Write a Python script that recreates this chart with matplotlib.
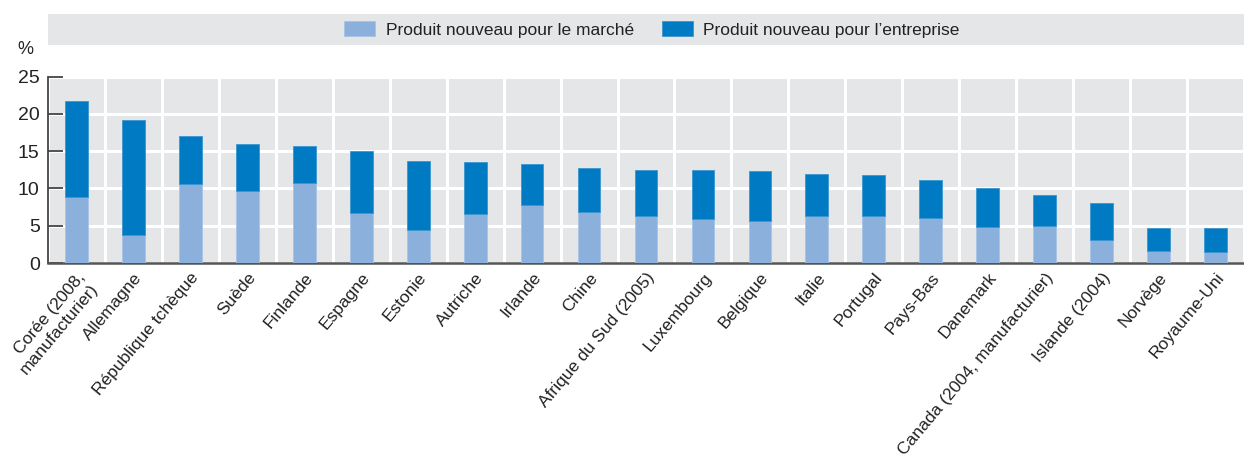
import numpy as np
import matplotlib
matplotlib.use("Agg")
from matplotlib import pyplot as plt
from matplotlib.patches import Rectangle

plt.rcParams['font.family'] = ['Liberation Sans', 'DejaVu Sans']

countries = [
    "Corée (2008,\nmanufacturier)", "Allemagne", "République tchèque", "Suède",
    "Finlande", "Espagne", "Estonie", "Autriche", "Irlande", "Chine",
    "Afrique du Sud (2005)", "Luxembourg", "Belgique", "Italie", "Portugal",
    "Pays-Bas", "Danemark", "Canada (2004, manufacturier)", "Islande (2004)",
    "Norvège", "Royaume-Uni",
]
# share of firms with product new to the market
new_market = [8.9, 3.7, 10.6, 9.6, 10.8, 6.7, 4.4, 6.6, 7.8, 6.8,
              6.3, 5.9, 5.7, 6.3, 6.25, 6.1, 4.8, 5.0, 3.05, 1.6, 1.45]
# total (new to the firm), top of the stacked bar
total = [21.8, 19.2, 17.0, 16.0, 15.7, 15.05, 13.7, 13.6, 13.3, 12.7,
         12.5, 12.45, 12.35, 11.9, 11.8, 11.1, 10.1, 9.1, 8.1, 4.7, 4.7]

light = '#8cb0dc'
dark = '#007bc3'
bg = '#e5e6e8'
txt = '#222222'

x = np.arange(len(countries))
new_market = np.array(new_market)
new_firm = np.array(total) - new_market

fig = plt.figure(figsize=(12.44, 4.57), dpi=100)
ax = fig.add_axes([48 / 1244, 1 - 263 / 457, 1 - 48 / 1244, (263 - 76.7) / 457])
ax.set_facecolor(bg)

ax.bar(x, new_market, width=0.4, color=light, edgecolor='#a7c4e6', linewidth=0.6,
       label='Produit nouveau pour le marché', zorder=3)
ax.bar(x, new_firm, bottom=new_market, width=0.4, color=dark, edgecolor='#3a95d0',
       linewidth=0.6, label='Produit nouveau pour l\u2019entreprise', zorder=3)

ax.set_ylim(0, 25)
ax.set_xlim(-0.5, 20.26)
ax.set_yticks([0, 5, 10, 15, 20, 25])
ax.set_xticks(x)
ax.set_xticks(np.arange(-0.5, 20.6, 1), minor=True)
ax.grid(axis='y', which='major', color='white', linewidth=2.2, zorder=1)
ax.grid(axis='x', which='minor', color='white', linewidth=2.2, zorder=1)
ax.grid(axis='x', which='major', visible=False)

for s in ['top', 'right']:
    ax.spines[s].set_visible(False)
ax.spines['left'].set_color('#444444')
ax.spines['bottom'].set_color('#555555')
ax.spines['left'].set_linewidth(1.3)
ax.spines['bottom'].set_linewidth(1.8)

ax.tick_params(axis='y', direction='in', length=11, width=1.3, color='#444444',
               labelsize=14, labelcolor=txt, pad=6)
ax.tick_params(axis='x', which='both', length=0, labelsize=12.5, labelcolor=txt, pad=5)
ax.set_xticklabels(countries, rotation=50, ha='right', rotation_mode='anchor')

fig.text(25 / 1244, 1 - 50 / 457, '%', fontsize=13, color=txt, ha='center', va='center')

# legend band
fig.patches.append(Rectangle((48 / 1244, 1 - 45 / 457), 1 - 48 / 1244, 31 / 457,
                             transform=fig.transFigure, facecolor=bg, edgecolor='none'))
fig.legend(loc='center', bbox_to_anchor=(652 / 1244, 1 - 29.5 / 457), ncol=2,
           frameon=False, fontsize=12.5, handlelength=1.8, handleheight=0.9,
           columnspacing=1.6, handletextpad=0.6, labelcolor=txt)

fig.savefig('out.png', dpi=100)
